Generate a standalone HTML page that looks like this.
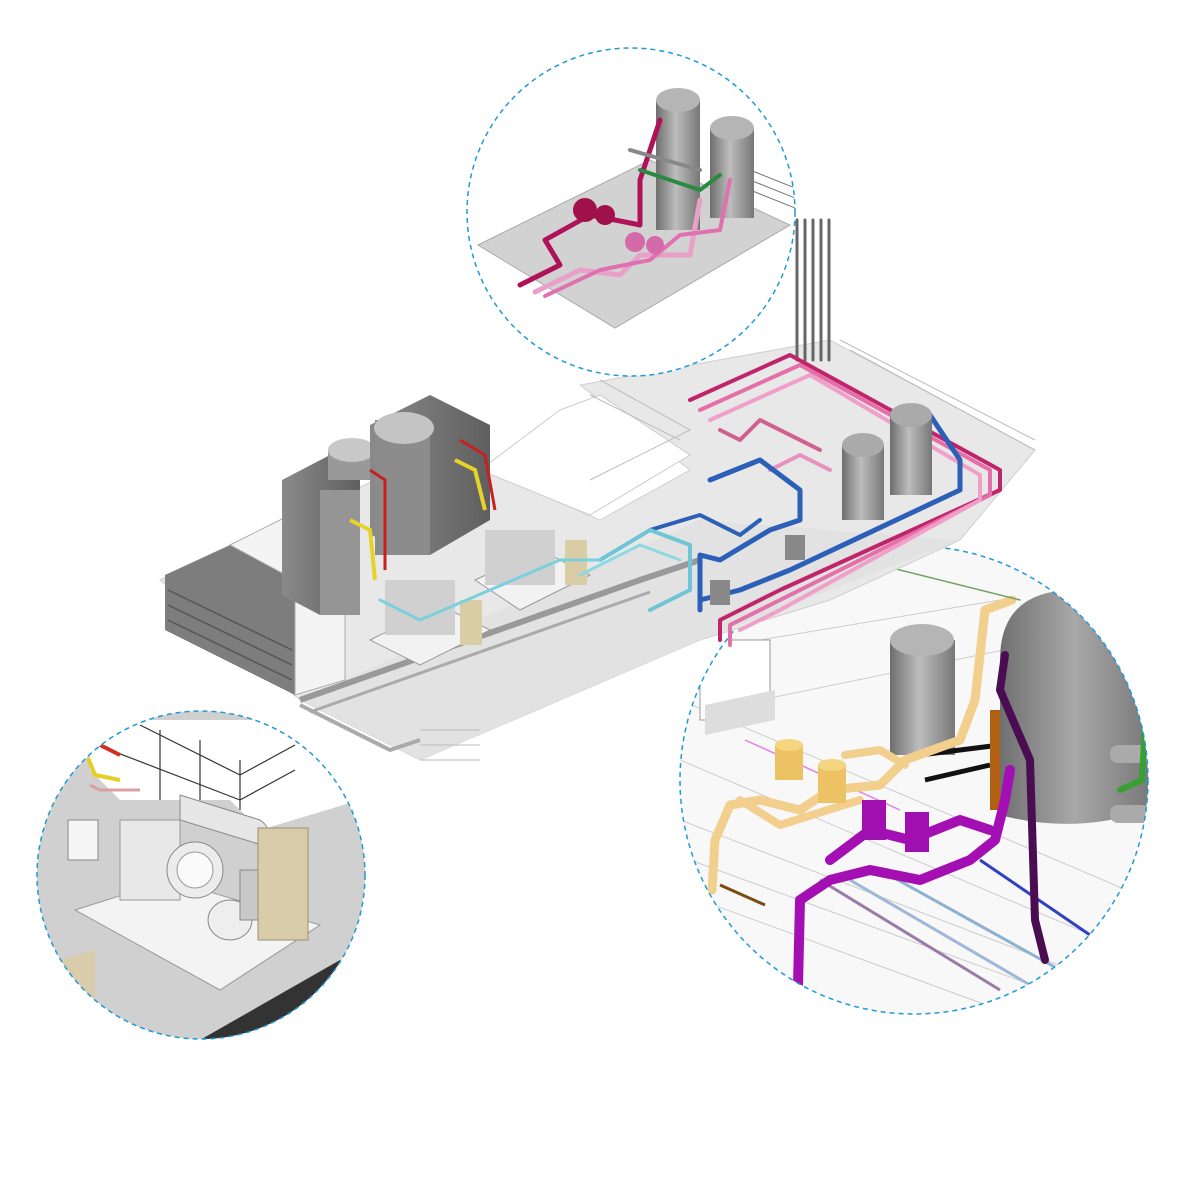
<!DOCTYPE html>
<html><head><meta charset="utf-8"><style>html,body{margin:0;padding:0;background:#fff}svg{display:block}</style></head>
<body>
<svg width="1182" height="1182" viewBox="0 0 1182 1182" xmlns="http://www.w3.org/2000/svg">
<defs>
<linearGradient id="tank" x1="0" x2="1"><stop offset="0" stop-color="#6e6e6e"/><stop offset="0.45" stop-color="#bdbdbd"/><stop offset="1" stop-color="#777"/></linearGradient>
<linearGradient id="btank" x1="0" x2="1"><stop offset="0" stop-color="#707070"/><stop offset="0.5" stop-color="#a8a8a8"/><stop offset="1" stop-color="#7a7a7a"/></linearGradient>
<linearGradient id="blk" x1="0" x2="1"><stop offset="0" stop-color="#8a8a8a"/><stop offset="1" stop-color="#5f5f5f"/></linearGradient>
<clipPath id="c1"><circle cx="631" cy="212" r="164"/></clipPath>
<clipPath id="c2"><circle cx="201" cy="875" r="164"/></clipPath>
<clipPath id="c3"><circle cx="914" cy="780" r="234"/></clipPath>
</defs>
<rect width="1182" height="1182" fill="#fff"/>

<!-- bottom-right circle (drawn first; platform overlaps) -->
<circle cx="914" cy="780" r="234" fill="#f8f8f8"/>
<g clip-path="url(#c3)">
<g stroke="#ccc" fill="none"><line x1="680" y1="700" x2="1150" y2="900"/><line x1="680" y1="760" x2="1150" y2="960"/><line x1="690" y1="860" x2="1100" y2="1010"/><line x1="700" y1="650" x2="1000" y2="600"/><line x1="760" y1="700" x2="1150" y2="620"/><line x1="680" y1="820" x2="1150" y2="1000"/><line x1="700" y1="900" x2="1000" y2="1010"/></g>
<rect x="700" y="640" width="70" height="80" fill="#fff" stroke="#999"/>
<polygon points="705,705 775,690 775,720 705,735" fill="#ddd"/>
<g stroke-width="3"><line x1="820" y1="880" x2="1000" y2="990" stroke="#9c7aa8"/><line x1="850" y1="880" x2="1030" y2="985" stroke="#9fb8d8"/><line x1="880" y1="870" x2="1060" y2="970" stroke="#8fb0d0"/><line x1="980" y1="860" x2="1090" y2="935" stroke="#3040c0"/><line x1="745" y1="740" x2="900" y2="810" stroke="#e080e8" stroke-width="1.5"/></g>
<line x1="720" y1="885" x2="765" y2="905" stroke="#7a4a10" stroke-width="3"/>
<rect x="890" y="640" width="65" height="115" fill="url(#tank)"/><ellipse cx="922" cy="640" rx="32" ry="16" fill="#b5b5b5"/>
<polyline points="920,755 1000,745" stroke="#111" stroke-width="5" fill="none"/><line x1="925" y1="780" x2="990" y2="765" stroke="#111" stroke-width="5"/>
<rect x="990" y="710" width="10" height="100" fill="#b06010"/>
<path d="M1000,660 Q1000,590 1075,590 Q1145,590 1148,680 L1148,810 Q1075,835 1000,815 Z" fill="url(#btank)"/>
<rect x="1110" y="745" width="40" height="18" rx="8" fill="#aaa"/><rect x="1110" y="805" width="40" height="18" rx="8" fill="#aaa"/>
<g fill="none" stroke-linecap="round" stroke-linejoin="round">
<polyline points="712,890 715,840 730,805 760,800 800,810 830,790 880,785 905,760 960,740 975,700 985,610 1012,600" stroke="#f3cf8e" stroke-width="9"/>
<polyline points="740,800 780,825 860,800" stroke="#f3cf8e" stroke-width="8"/>
<polyline points="845,755 880,750 905,765" stroke="#f3cf8e" stroke-width="8"/>
<polyline points="798,985 800,900 830,880 870,870 920,880 970,860 995,840 1005,800 1010,770" stroke="#a40fb4" stroke-width="10"/>
<polyline points="830,860 870,830 910,840 960,820 990,830" stroke="#a40fb4" stroke-width="10"/>
<polyline points="1045,960 1035,920 1030,760 1000,690 1005,655" stroke="#4a0d52" stroke-width="8"/>
<polyline points="1120,790 1142,780 1145,720" stroke="#38a030" stroke-width="6"/>
<polyline points="860,560 1020,600" stroke="#70a060" stroke-width="1.5"/>
</g>
<rect x="775" y="745" width="28" height="35" fill="#ecc264"/><ellipse cx="789" cy="745" rx="14" ry="6" fill="#f4d680"/>
<rect x="818" y="765" width="28" height="38" fill="#ecc264"/><ellipse cx="832" cy="765" rx="14" ry="6" fill="#f4d680"/>
<rect x="862" y="800" width="24" height="40" fill="#a010b0"/><rect x="905" y="812" width="24" height="40" fill="#a010b0"/>
</g>
<circle cx="914" cy="780" r="234" fill="none" stroke="#1f9ad6" stroke-width="1.5" stroke-dasharray="5,4"/>

<!-- main platform -->
<polygon points="160,580 440,450 600,520 690,470 580,385 830,340 1035,450 960,540 830,600 700,640 420,760 300,700" fill="#e8e8e8" stroke="#cfcfcf"/>
<polygon points="480,470 590,515 690,455 600,395 560,410" fill="#fff" stroke="#ccc"/>
<polygon points="300,700 700,520 960,540 700,640 420,760" fill="#e2e2e2"/>
<polyline points="300,700 640,580 700,560" fill="none" stroke="#999" stroke-width="6"/>
<polyline points="310,712 650,592" fill="none" stroke="#aaa" stroke-width="3"/>
<polyline points="300,705 390,750 420,740" fill="none" stroke="#aaa" stroke-width="4"/>
<g stroke="#bbb" stroke-width="1" fill="none">
<polyline points="600,380 690,430 590,480"/><polyline points="590,395 680,440"/>
<line x1="840" y1="340" x2="1035" y2="440"/><line x1="850" y1="350" x2="1035" y2="450"/>
</g>

<!-- left louvered box -->
<polygon points="165,575 230,545 295,580 295,695 165,630" fill="#7d7d7d"/>
<polygon points="230,545 300,510 345,535 295,580" fill="#f4f4f4" stroke="#aaa"/>
<polygon points="295,580 345,555 345,680 295,695" fill="#f4f4f4" stroke="#aaa"/>
<g stroke="#555" stroke-width="1.5"><line x1="168" y1="590" x2="292" y2="650"/><line x1="168" y1="605" x2="292" y2="665"/><line x1="168" y1="620" x2="292" y2="680"/></g>

<!-- coolers -->
<polygon points="282,480 330,455 360,470 360,600 320,615 282,595" fill="url(#blk)"/>
<rect x="320" y="490" width="40" height="125" fill="#959595"/>
<rect x="328" y="450" width="48" height="30" fill="#999"/><ellipse cx="352" cy="450" rx="24" ry="12" fill="#c8c8c8"/>
<polygon points="370,425 430,395 490,425 490,520 430,555 370,535" fill="url(#blk)"/>
<rect x="375" y="420" width="55" height="135" fill="#8c8c8c"/>
<ellipse cx="404" cy="428" rx="30" ry="16" fill="#c4c4c4"/>
<polyline points="350,520 370,530 375,580" fill="none" stroke="#e5d32a" stroke-width="4"/>
<polyline points="455,460 475,470 485,510" fill="none" stroke="#e5d32a" stroke-width="4"/>
<polyline points="370,470 385,480 385,570" fill="none" stroke="#c82020" stroke-width="3"/>
<polyline points="460,440 485,455 495,510" fill="none" stroke="#c82020" stroke-width="3"/>
<!-- skids -->
<polygon points="370,640 440,605 490,630 420,665" fill="#f2f2f2" stroke="#999"/>
<rect x="385" y="580" width="70" height="55" fill="#d0d0d0"/><rect x="460" y="600" width="22" height="45" fill="#d9cda6"/>
<polygon points="475,580 540,550 590,575 520,610" fill="#f2f2f2" stroke="#999"/>
<rect x="485" y="530" width="70" height="55" fill="#d0d0d0"/><rect x="565" y="540" width="22" height="45" fill="#d9cda6"/>

<!-- pipes -->
<g fill="none" stroke-linecap="round" stroke-linejoin="round">
<g stroke="#666" stroke-width="3"><line x1="797" y1="220" x2="797" y2="360"/><line x1="805" y1="220" x2="805" y2="360"/><line x1="813" y1="220" x2="813" y2="360"/><line x1="821" y1="220" x2="821" y2="360"/><line x1="829" y1="220" x2="829" y2="360"/></g>
<polyline points="690,400 790,355 1000,470 1000,490 780,590 720,620 720,640" stroke="#c0246a" stroke-width="4"/>
<polyline points="700,410 800,365 990,470 990,495 780,600 730,625 730,645" stroke="#e56fa8" stroke-width="4"/>
<polyline points="710,420 810,375 980,475 980,500 780,610 740,630" stroke="#f0a0c8" stroke-width="4"/>
<polyline points="720,430 740,440 760,420 820,450" stroke="#d06090" stroke-width="4"/>
<polyline points="770,470 800,455 830,470" stroke="#e890c0" stroke-width="4"/>
<polyline points="930,415 960,460 960,490 790,570 740,590 700,600" stroke="#2b5fb8" stroke-width="5"/>
<polyline points="710,480 760,460 800,490 800,520 770,530 720,560 700,555 700,610" stroke="#2b5fb8" stroke-width="5"/>
<polyline points="650,530 700,515 740,535 760,520" stroke="#2b5fb8" stroke-width="4"/>
<polyline points="600,560 650,530 690,545 690,590 650,610" stroke="#6fc5d6" stroke-width="4"/>
<polyline points="580,575 640,545 680,560" stroke="#8dd8e3" stroke-width="3"/>
<polyline points="380,600 420,620 560,560 600,560" stroke="#7cd0de" stroke-width="3"/>
</g>
<rect x="842" y="445" width="42" height="75" fill="url(#tank)"/><ellipse cx="863" cy="445" rx="21" ry="12" fill="#aaa"/>
<rect x="890" y="415" width="42" height="80" fill="url(#tank)"/><ellipse cx="911" cy="415" rx="21" ry="12" fill="#aaa"/>
<rect x="785" y="535" width="20" height="25" fill="#888"/><rect x="710" y="580" width="20" height="25" fill="#888"/>
<g stroke="#bbb"><line x1="420" y1="730" x2="480" y2="730"/><line x1="420" y1="745" x2="480" y2="745"/><line x1="420" y1="760" x2="480" y2="760"/></g>

<!-- top circle -->
<circle cx="631" cy="212" r="164" fill="#fff"/>
<g clip-path="url(#c1)">
<polygon points="478,245 650,160 790,225 615,328" fill="#d2d2d2" stroke="#aaa"/>
<g stroke="#777" fill="none"><line x1="750" y1="170" x2="800" y2="190"/><line x1="750" y1="180" x2="800" y2="200"/><line x1="750" y1="190" x2="800" y2="210"/></g>
<rect x="656" y="100" width="44" height="130" fill="url(#tank)"/><ellipse cx="678" cy="100" rx="22" ry="12" fill="#b5b5b5"/>
<rect x="710" y="128" width="44" height="90" fill="url(#tank)"/><ellipse cx="732" cy="128" rx="22" ry="12" fill="#b5b5b5"/>
<g fill="none" stroke-linecap="round" stroke-linejoin="round">
<polyline points="520,285 560,265 545,240 590,215 640,225 640,180 660,120" stroke="#b0125a" stroke-width="5"/>
<polyline points="535,292 580,270 620,275 640,255 690,255 700,200" stroke="#e8a0c8" stroke-width="5"/>
<polyline points="545,296 600,270 650,260 680,235 720,230 730,180" stroke="#e070b0" stroke-width="4"/>
<polyline points="640,170 700,190 720,175" stroke="#2a8a40" stroke-width="4"/>
<line x1="630" y1="150" x2="700" y2="170" stroke="#888" stroke-width="4"/>
</g>
<circle cx="585" cy="210" r="12" fill="#a0104a"/><circle cx="605" cy="215" r="10" fill="#a0104a"/>
<circle cx="635" cy="242" r="10" fill="#d56aa8"/><circle cx="655" cy="245" r="9" fill="#d56aa8"/>
</g>
<circle cx="631" cy="212" r="164" fill="none" stroke="#1f9ad6" stroke-width="1.5" stroke-dasharray="5,4"/>

<!-- bottom-left circle -->
<circle cx="201" cy="875" r="164" fill="#d0d0d0"/>
<g clip-path="url(#c2)">
<polygon points="90,720 300,720 360,800 260,830 230,800 120,800 90,770" fill="#fff"/>
<g stroke="#333" fill="none" stroke-width="1.2"><line x1="140" y1="725" x2="240" y2="775"/><line x1="240" y1="775" x2="295" y2="745"/><line x1="110" y1="750" x2="240" y2="800"/><line x1="240" y1="800" x2="295" y2="770"/><line x1="160" y1="730" x2="160" y2="800"/><line x1="200" y1="740" x2="200" y2="800"/><line x1="240" y1="760" x2="240" y2="810"/></g>
<polygon points="75,910 170,880 320,925 220,990" fill="#f3f3f3" stroke="#999"/>
<rect x="120" y="820" width="60" height="80" fill="#e8e8e8" stroke="#999"/>
<ellipse cx="195" cy="870" rx="28" ry="28" fill="#ececec" stroke="#888"/><ellipse cx="195" cy="870" rx="18" ry="18" fill="#fafafa" stroke="#999"/>
<ellipse cx="230" cy="920" rx="22" ry="20" fill="#eee" stroke="#888"/>
<path d="M180,795 L260,820 Q275,830 262,845 L180,820 Z" fill="#e6e6e6" stroke="#888"/>
<rect x="240" y="870" width="28" height="50" fill="#c8c8c8" stroke="#888"/>
<rect x="258" y="828" width="50" height="112" fill="#d8ccaa" stroke="#9a8f70"/>
<rect x="68" y="820" width="30" height="40" fill="#f5f5f5" stroke="#888"/>
<polyline points="88,758 95,775 120,780" fill="none" stroke="#e6cf20" stroke-width="4"/>
<polyline points="100,745 120,755" fill="none" stroke="#d03020" stroke-width="4"/>
<polyline points="90,785 100,790 140,790" fill="none" stroke="#d8a0a0" stroke-width="3"/>
<polygon points="60,960 95,950 95,1010 60,1010" fill="#d8ccaa"/>
<polygon points="200,1040 340,960 360,980 220,1050" fill="#333"/>
</g>
<circle cx="201" cy="875" r="164" fill="none" stroke="#1f9ad6" stroke-width="1.5" stroke-dasharray="5,4"/>
</svg>
</body></html>
